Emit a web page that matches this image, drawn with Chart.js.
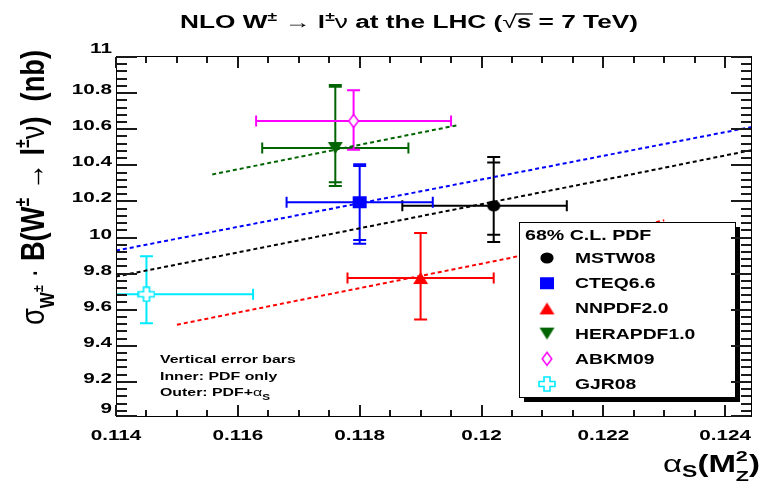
<!DOCTYPE html>
<html>
<head>
<meta charset="utf-8">
<script src="https://cdn.jsdelivr.net/npm/chart.js@4.4.1/dist/chart.umd.min.js"></script>
<style>
  html, body { margin: 0; padding: 0; background: #ffffff; }
  #c { display: block; }
</style>
</head>
<body>
<canvas id="c" width="761" height="489"></canvas>
<script>
// ---- data -------------------------------------------------------------
const pdfSets      = ['MSTW08', 'CTEQ6.6', 'NNPDF2.0', 'HERAPDF1.0', 'ABKM09', 'GJR08'];
const alphaS       = [0.1202, 0.1180, 0.1190, 0.1176, 0.1179, 0.1145];
const alphaSLow    = [0.1187, 0.1168, 0.1178, 0.1164, 0.1163, 0.1127];
const alphaSHigh   = [0.1214, 0.1192, 0.1202, 0.1188, 0.1195, 0.11625];
const sigmaW       = [10.17, 10.19, 9.77, 10.49, 10.64, 9.68];
const sigmaPdfLow  = [10.01, 9.98, 9.54, 10.30, 10.48, 9.52];
const sigmaPdfHigh = [10.41, 10.39, 10.02, 10.83, 10.81, 9.89];
const sigmaTotLow  = [9.97, 9.96, 9.54, 10.28, 10.48, 9.52];
const sigmaTotHigh = [10.44, 10.40, 10.02, 10.84, 10.81, 9.89];

// cross section versus alpha_S for the fits with alpha_S varied
const mstwScanX  = [0.114, 0.12206, 0.1245];
const mstwScanY  = [9.778, 10.317, 10.483];
const cteqScanX  = [0.114, 0.1245];
const cteqScanY  = [9.922, 10.611];
const nnpdfScanX = [0.115, 0.1205, 0.1230];
const nnpdfScanY = [9.511, 9.883, 10.09];
const heraScanX  = [0.11558, 0.11961];
const heraScanY  = [10.344, 10.617];

const xTickValues = [0.114, 0.116, 0.118, 0.120, 0.122, 0.124];
const xTickLabels = ['0.114', '0.116', '0.118', '0.12', '0.122', '0.124'];
const yTickValues = [9, 9.2, 9.4, 9.6, 9.8, 10, 10.2, 10.4, 10.6, 10.8, 11];
const yTickLabels = ['9', '9.2', '9.4', '9.6', '9.8', '10', '10.2', '10.4', '10.6', '10.8', '11'];

const legendHeader = '68% C.L. PDF';
const noteLines = ['Vertical error bars', 'Inner: PDF only', 'Outer: PDF+'];

// ---- style ------------------------------------------------------------
const setColors = ['#000000', '#0000ff', '#ff0000', '#006400', '#ff00ff', '#00eaff'];
const FAMILY = '"Liberation Sans", Arial, Helvetica, sans-serif';
const SX = 1.38;   // horizontal text stretch

function markerCanvas(kind, color) {
  const c = document.createElement('canvas');
  const g = c.getContext('2d');
  if (kind === 'circle') {
    c.width = 16; c.height = 14;
    g.fillStyle = color; g.beginPath(); g.ellipse(8, 7, 6.6, 5.6, 0, 0, Math.PI * 2); g.fill();
  } else if (kind === 'square') {
    c.width = 16; c.height = 14;
    g.fillStyle = color; g.fillRect(1, 1, 14, 12);
  } else if (kind === 'triUp') {
    c.width = 17; c.height = 14;
    g.fillStyle = color; g.beginPath(); g.moveTo(8.5, 1); g.lineTo(16, 13); g.lineTo(1, 13); g.closePath(); g.fill();
  } else if (kind === 'triDown') {
    c.width = 17; c.height = 14;
    g.fillStyle = color; g.beginPath(); g.moveTo(1, 1); g.lineTo(16, 1); g.lineTo(8.5, 13); g.closePath(); g.fill();
  } else if (kind === 'diamond') {
    c.width = 12; c.height = 16;
    g.fillStyle = '#ffffff'; g.strokeStyle = color; g.lineWidth = 1.5;
    g.beginPath(); g.moveTo(6, 1.5); g.lineTo(10.8, 8); g.lineTo(6, 14.5); g.lineTo(1.2, 8); g.closePath();
    g.fill(); g.stroke();
  } else if (kind === 'openCross') {
    c.width = 18; c.height = 16;
    g.fillStyle = '#ffffff'; g.strokeStyle = color; g.lineWidth = 1.6;
    const p = [[6,1],[12,1],[12,5.5],[17,5.5],[17,10.5],[12,10.5],[12,15],[6,15],[6,10.5],[1,10.5],[1,5.5],[6,5.5]];
    g.beginPath(); p.forEach((q, i) => i ? g.lineTo(q[0], q[1]) : g.moveTo(q[0], q[1])); g.closePath();
    g.fill(); g.stroke();
  }
  return c;
}
const markerKinds = ['circle', 'square', 'triUp', 'triDown', 'diamond', 'openCross'];
const markers = markerKinds.map((k, i) => markerCanvas(k, setColors[i]));

// ---- rich text with sub/superscripts, stretched like the printed figure ----
function fontOf(s, base) {
  return `${s.weight || base.weight || 'bold'} ${s.size || base.size}px ${s.family || FAMILY}`;
}
function drawRich(ctx, segs, o) {
  let w = 0;
  segs.forEach(s => { ctx.font = fontOf(s, o); s._w = ctx.measureText(s.t).width; if (!s.keep) w += s._w; });
  const sx = o.fit ? o.fit / w : (o.sx || 1);
  ctx.save();
  ctx.translate(o.x, o.y);
  if (o.rotate) ctx.rotate(-Math.PI / 2);
  ctx.scale(sx, o.sy || 1);
  ctx.fillStyle = o.color || '#000';
  ctx.strokeStyle = o.color || '#000';
  ctx.textBaseline = 'alphabetic';
  ctx.textAlign = 'left';
  let cx = o.align === 'center' ? -w / 2 : o.align === 'right' ? -w : 0;
  segs.forEach(s => {
    ctx.font = fontOf(s, o);
    ctx.fillText(s.t, cx, s.dy || 0);
    if (s.overline) {
      const sz = s.size || o.size;
      ctx.lineWidth = 1.3;
      ctx.beginPath(); ctx.moveTo(cx - 1, -sz * 0.78); ctx.lineTo(cx + s._w + 1, -sz * 0.78); ctx.stroke();
    }
    if (!s.keep) cx += s._w;
  });
  ctx.restore();
}

// ---- plugins ----------------------------------------------------------
const errorBars = {
  id: 'errorBars',
  beforeDatasetsDraw(chart) {
    const { ctx, chartArea: a } = chart;
    const xs = chart.scales.x, ys = chart.scales.y;
    ctx.save();
    ctx.beginPath(); ctx.rect(a.left, a.top, a.right - a.left, a.bottom - a.top); ctx.clip();
    ctx.setLineDash([]);
    ctx.lineWidth = 2;
    pdfSets.forEach((name, i) => {
      ctx.strokeStyle = setColors[i];
      const px = xs.getPixelForValue(alphaS[i]);
      const py = ys.getPixelForValue(sigmaW[i]);
      const xl = xs.getPixelForValue(alphaSLow[i]);
      const xh = xs.getPixelForValue(alphaSHigh[i]);
      const ylo = ys.getPixelForValue(sigmaTotLow[i]);
      const yhi = ys.getPixelForValue(sigmaTotHigh[i]);
      ctx.beginPath();
      ctx.moveTo(xl, py); ctx.lineTo(xh, py);
      ctx.moveTo(xl, py - 5.5); ctx.lineTo(xl, py + 5.5);
      ctx.moveTo(xh, py - 5.5); ctx.lineTo(xh, py + 5.5);
      ctx.moveTo(px, ylo); ctx.lineTo(px, yhi);
      [sigmaTotLow[i], sigmaTotHigh[i], sigmaPdfLow[i], sigmaPdfHigh[i]].forEach(v => {
        const yy = ys.getPixelForValue(v);
        ctx.moveTo(px - 6.5, yy); ctx.lineTo(px + 6.5, yy);
      });
      ctx.stroke();
    });
    ctx.restore();
  }
};

const decorations = {
  id: 'decorations',
  afterDraw(chart) {
    const { ctx, chartArea: a } = chart;
    const xs = chart.scales.x, ys = chart.scales.y;
    ctx.save();
    ctx.setLineDash([]);

    // legend box with shadow
    const L = { l: 519, t: 222, r: 735, b: 397 };
    ctx.fillStyle = '#000';
    ctx.fillRect(L.l + 5, L.t + 5, L.r - L.l, L.b - L.t);
    ctx.fillStyle = '#fff';
    ctx.fillRect(L.l, L.t, L.r - L.l, L.b - L.t);
    ctx.strokeStyle = '#000'; ctx.lineWidth = 1;
    ctx.strokeRect(L.l + 0.5, L.t + 0.5, L.r - L.l, L.b - L.t);
    drawRich(ctx, [{ t: legendHeader }], { x: 525, y: 240, size: 14, sx: 1.40 });
    pdfSets.forEach((name, i) => {
      const by = 263 + i * 25.2;
      const m = markers[i];
      ctx.drawImage(m, 547 - m.width / 2, by - 5 - m.height / 2);
      drawRich(ctx, [{ t: name }], { x: 575, y: by, size: 14, sx: SX });
    });

    // frame
    ctx.fillStyle = '#000';
    const L0 = Math.round(a.left), R0 = Math.round(a.right) - 1;
    const T0 = Math.round(a.top), B0 = Math.round(a.bottom) - 1;
    ctx.fillRect(L0, T0, R0 - L0 + 1, 1);
    ctx.fillRect(L0, B0, R0 - L0 + 1, 1);
    ctx.fillRect(L0, T0, 1, B0 - T0 + 1);
    ctx.fillRect(R0, T0, 1, B0 - T0 + 1);

    // ticks on all four sides, pointing inwards
    ctx.fillStyle = '#1a1a1a';
    for (let k = 0; k <= 21; k++) {
      const v = 0.114 + k * 0.0005;
      if (v > xs.max + 1e-9) break;
      const px = Math.round(xs.getPixelForValue(v));
      const len = (k % 4 === 0) ? 11 : 6;
      ctx.fillRect(px - 1, B0 - len, 2, len);
      ctx.fillRect(px - 1, T0 + 1, 2, len);
    }
    for (let k = 0; k <= 50; k++) {
      const v = 9 + k * 0.04;
      const py = Math.round(ys.getPixelForValue(v));
      const len = (k % 5 === 0) ? 20 : 10;
      ctx.fillRect(L0 + 1, Math.min(py, B0 - 1), len, 2);
      ctx.fillRect(R0 - len, Math.min(py, B0 - 1), len, 2);
    }

    // tick labels
    ctx.fillStyle = '#000';
    xTickValues.forEach((v, i) => {
      drawRich(ctx, [{ t: xTickLabels[i] }], { x: xs.getPixelForValue(v), y: 440, size: 15, sx: SX, align: 'center' });
    });
    yTickValues.forEach((v, i) => {
      let by = ys.getPixelForValue(v) + 2;
      if (i === 0) by = 413;
      if (i === yTickValues.length - 1) by = 53;
      drawRich(ctx, [{ t: yTickLabels[i] }], { x: 112, y: by, size: 15, sx: SX, align: 'right' });
    });

    // title
    drawRich(ctx, [
      { t: 'NLO W' }, { t: '\u00B1', size: 12, dy: -7 }, { t: ' \u2192 ', weight: 'normal' },
      { t: 'l' }, { t: '\u00B1', size: 12, dy: -7 }, { t: '\u03BD', weight: 'normal' },
      { t: ' at the LHC (' }, { t: '\u221A', weight: 'normal' }, { t: 's', overline: true },
      { t: ' = 7 TeV)' }
    ], { x: 409, y: 28, size: 18, fit: 458, align: 'center' });

    // y axis title (rotated)
    drawRich(ctx, [
      { t: '\u03C3', weight: 'normal' }, { t: 'W', size: 15, dy: 7 }, { t: '\u00B1', size: 11, dy: -1 },
      { t: ' \u00B7 ', weight: 'normal' }, { t: 'B(W' }, { t: '\u00B1', size: 14, dy: -11 },
      { t: ' \u2192 ', weight: 'normal' }, { t: 'l' }, { t: '\u00B1', size: 14, dy: -11 },
      { t: '\u03BD', weight: 'normal' }, { t: ')  (nb)' }
    ], { x: 44, y: 50, size: 24, fit: 275, sy: SX, rotate: true, align: 'right' });

    // x axis title
    drawRich(ctx, [
      { t: '\u03B1', weight: 'normal' }, { t: 'S', size: 16, dy: 5 }, { t: '(M' },
      { t: '2', size: 15, dy: -11, keep: true }, { t: 'Z', size: 15, dy: 9 }, { t: ')' }
    ], { x: 760, y: 472, size: 23, fit: 97, align: 'right' });

    // note on the error bars
    drawRich(ctx, [{ t: noteLines[0] }], { x: 160, y: 363, size: 11.5, sx: SX });
    drawRich(ctx, [{ t: noteLines[1] }], { x: 160, y: 380, size: 11.5, sx: SX });
    drawRich(ctx, [{ t: noteLines[2] }, { t: '\u03B1', weight: 'normal' }, { t: 'S', size: 8.5, dy: 4 }],
      { x: 160, y: 396, size: 11.5, sx: SX });

    ctx.restore();
  }
};

// ---- datasets ---------------------------------------------------------
const pointSets = pdfSets.map((name, i) => ({
  label: name,
  data: [{ x: alphaS[i], y: sigmaW[i] }],
  pointStyle: markers[i],
  pointRadius: 8,
  pointHoverRadius: 8,
  showLine: false,
  order: 0
}));
function scanLine(xsArr, ysArr, color) {
  return {
    label: '',
    data: xsArr.map((x, i) => ({ x, y: ysArr[i] })),
    showLine: true,
    borderColor: color,
    borderWidth: 2,
    borderDash: [4, 3],
    pointRadius: 0,
    fill: false,
    order: 1
  };
}
const scanSets = [
  scanLine(mstwScanX, mstwScanY, setColors[0]),
  scanLine(cteqScanX, cteqScanY, setColors[1]),
  scanLine(nnpdfScanX, nnpdfScanY, setColors[2]),
  scanLine(heraScanX, heraScanY, setColors[3])
];

new Chart(document.getElementById('c'), {
  type: 'scatter',
  data: { datasets: [...pointSets, ...scanSets] },
  options: {
    responsive: false,
    animation: false,
    devicePixelRatio: 1,
    layout: { padding: { left: 116, right: 3, top: 56, bottom: 72 } },
    scales: {
      x: { type: 'linear', min: 0.114, max: 0.12444, display: false },
      y: { type: 'linear', min: 9, max: 11, display: false }
    },
    plugins: { legend: { display: false }, tooltip: { enabled: false } }
  },
  plugins: [errorBars, decorations]
});
</script>
</body>
</html>
